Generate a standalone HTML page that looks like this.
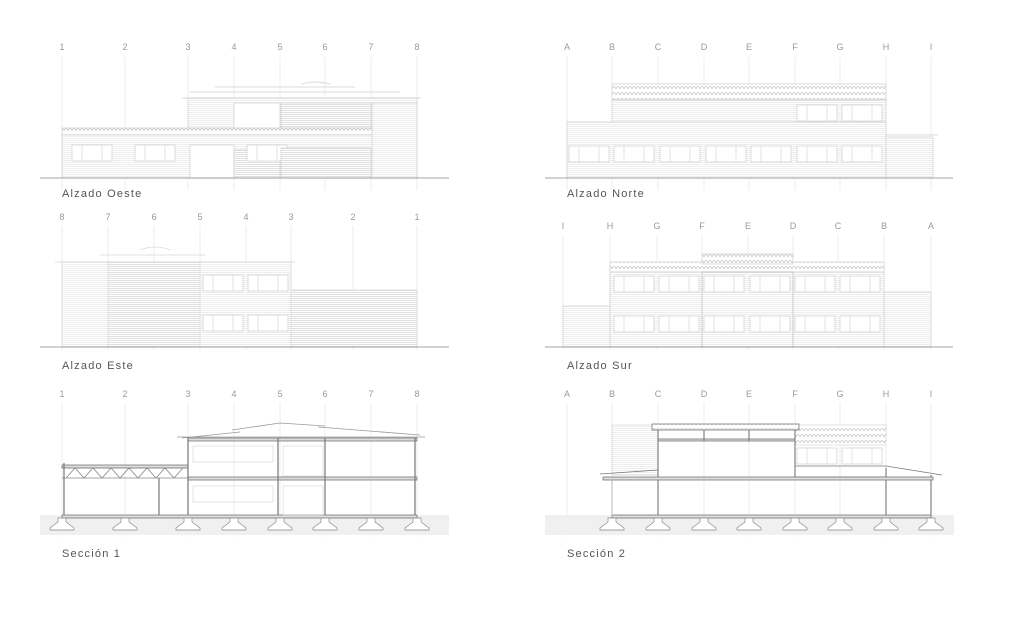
<!DOCTYPE html>
<html><head><meta charset="utf-8"><style>
html,body{margin:0;padding:0;background:#fff;}
svg{display:block}
text{font-family:"Liberation Sans",sans-serif;}
.g{font-size:9px;fill:#999;text-anchor:middle}
.t{font-size:11px;fill:#555;letter-spacing:1.2px}
</style></head><body>
<svg width="1017" height="624" viewBox="0 0 1017 624" xmlns="http://www.w3.org/2000/svg">
<defs>
<pattern id="hs" width="4" height="2" patternUnits="userSpaceOnUse"><rect width="4" height="2" fill="#fff"/><line x1="0" y1="0.5" x2="4" y2="0.5" stroke="#e2e2e2" stroke-width="0.6"/></pattern>
<pattern id="hd" width="4" height="2" patternUnits="userSpaceOnUse"><rect width="4" height="2" fill="#fff"/><line x1="0" y1="0.5" x2="4" y2="0.5" stroke="#d2d2d2" stroke-width="0.7"/></pattern>
<pattern id="rf" width="4" height="6" patternUnits="userSpaceOnUse"><rect width="4" height="6" fill="#fff"/><path d="M0 5 Q2 0 4 5" fill="none" stroke="#c4c4c4" stroke-width="0.7"/></pattern>
<pattern id="gr" width="4" height="2" patternUnits="userSpaceOnUse"><rect width="4" height="2" fill="#f7f7f7"/><line x1="0" y1="1" x2="4" y2="1" stroke="#e2e2e2" stroke-width="0.6"/></pattern>
<g id="win"><rect width="40" height="16" fill="#fff" stroke="#d0d0d0" stroke-width="0.7"/><line x1="10" y1="0" x2="10" y2="16" stroke="#d0d0d0" stroke-width="0.6"/><line x1="30" y1="0" x2="30" y2="16" stroke="#d0d0d0" stroke-width="0.6"/></g>
<g id="ft"><path d="M-12 10 L-4 4 L-4 0 L4 0 L4 4 L12 10 L12 12 L-12 12 Z" fill="#fff" stroke="#888" stroke-width="0.7"/></g>
</defs>

<g stroke="#e6e6e6" stroke-width="0.7">
<path d="M62 57V190M125 57V190M188 57V190M234 57V190M280 57V190M325 57V190M371 57V190M417 57V190"/>
<path d="M567 57V190M612 57V190M658 57V190M704 57V190M749 57V190M795 57V190M840 57V190M886 57V190M931 57V190"/>
<path d="M62 226V350M108 226V350M154 226V350M200 226V350M246 226V350M291 226V350M353 226V350M417 226V350"/>
<path d="M563 235V350M610 235V350M657 235V350M702 235V350M748 235V350M793 235V350M838 235V350M884 235V350M931 235V350"/>
<path d="M62 403V537M125 403V537M188 403V537M234 403V537M280 403V537M325 403V537M371 403V537M417 403V537"/>
<path d="M567 403V537M612 403V537M658 403V537M704 403V537M749 403V537M795 403V537M840 403V537M886 403V537M931 403V537"/>
</g>

<g class="g">
<text x="62" y="50">1</text><text x="125" y="50">2</text><text x="188" y="50">3</text><text x="234" y="50">4</text><text x="280" y="50">5</text><text x="325" y="50">6</text><text x="371" y="50">7</text><text x="417" y="50">8</text>
<text x="567" y="50">A</text><text x="612" y="50">B</text><text x="658" y="50">C</text><text x="704" y="50">D</text><text x="749" y="50">E</text><text x="795" y="50">F</text><text x="840" y="50">G</text><text x="886" y="50">H</text><text x="931" y="50">I</text>
<text x="62" y="220">8</text><text x="108" y="220">7</text><text x="154" y="220">6</text><text x="200" y="220">5</text><text x="246" y="220">4</text><text x="291" y="220">3</text><text x="353" y="220">2</text><text x="417" y="220">1</text>
<text x="563" y="229">I</text><text x="610" y="229">H</text><text x="657" y="229">G</text><text x="702" y="229">F</text><text x="748" y="229">E</text><text x="793" y="229">D</text><text x="838" y="229">C</text><text x="884" y="229">B</text><text x="931" y="229">A</text>
<text x="62" y="397">1</text><text x="125" y="397">2</text><text x="188" y="397">3</text><text x="234" y="397">4</text><text x="280" y="397">5</text><text x="325" y="397">6</text><text x="371" y="397">7</text><text x="417" y="397">8</text>
<text x="567" y="397">A</text><text x="612" y="397">B</text><text x="658" y="397">C</text><text x="704" y="397">D</text><text x="749" y="397">E</text><text x="795" y="397">F</text><text x="840" y="397">G</text><text x="886" y="397">H</text><text x="931" y="397">I</text>
</g>
<text class="t" x="62" y="197">Alzado Oeste</text>
<text class="t" x="567" y="197">Alzado Norte</text>
<text class="t" x="62" y="369">Alzado Este</text>
<text class="t" x="567" y="369">Alzado Sur</text>
<text class="t" x="62" y="557">Sección 1</text>
<text class="t" x="567" y="557">Sección 2</text>

<!-- Alzado Oeste -->
<g stroke="#d0d0d0" stroke-width="0.7">
<rect x="188" y="98" width="229" height="30" fill="url(#hs)"/>
<rect x="281" y="103" width="90" height="25" fill="url(#hd)"/>
<rect x="234" y="103" width="46" height="25" fill="#fff"/>
<path d="M182 98H421M190 92H400M215 87H355M302 84Q315 80 330 84" fill="none"/>
<rect x="62" y="128" width="310" height="7" fill="url(#rf)"/>
<rect x="62" y="135" width="355" height="43" fill="url(#hs)"/>
<use href="#win" x="72" y="145"/><use href="#win" x="135" y="145"/>
<rect x="190" y="145" width="44" height="33" fill="#fff"/>
<rect x="234" y="150" width="46" height="28" fill="url(#hd)"/>
<use href="#win" x="247" y="145"/>
<rect x="281" y="148" width="90" height="30" fill="url(#hd)"/>
<rect x="372" y="103" width="45" height="75" fill="url(#hs)"/>
</g>
<line x1="40" y1="178" x2="449" y2="178" stroke="#888" stroke-width="0.8"/>

<!-- Alzado Norte -->
<g stroke="#d0d0d0" stroke-width="0.7">
<rect x="612" y="84" width="274" height="16" fill="url(#rf)"/>
<rect x="612" y="100" width="274" height="22" fill="url(#hs)"/>
<use href="#win" x="797" y="105"/><use href="#win" x="842" y="105"/>
<rect x="567" y="122" width="319" height="56" fill="url(#hs)"/>
<use href="#win" x="569" y="146"/><use href="#win" x="614" y="146"/><use href="#win" x="660" y="146"/><use href="#win" x="706" y="146"/><use href="#win" x="751" y="146"/><use href="#win" x="797" y="146"/><use href="#win" x="842" y="146"/>
<rect x="886" y="137" width="47" height="41" fill="url(#hs)"/>
<path d="M886 135H938"/>
</g>
<line x1="545" y1="178" x2="953" y2="178" stroke="#888" stroke-width="0.8"/>

<!-- Alzado Este -->
<g stroke="#d8d8d8" stroke-width="0.7">
<path d="M55 262H295M100 255H205M140 250Q155 244 170 250" fill="none"/>
<rect x="62" y="262" width="229" height="85" fill="url(#hs)"/>
<rect x="108" y="262" width="92" height="85" fill="url(#hd)"/>
<use href="#win" x="203" y="275"/><use href="#win" x="248" y="275"/>
<use href="#win" x="203" y="315"/><use href="#win" x="248" y="315"/>
<rect x="291" y="290" width="126" height="57" fill="url(#hd)"/>
</g>
<line x1="40" y1="347" x2="449" y2="347" stroke="#888" stroke-width="0.8"/>

<!-- Alzado Sur -->
<g stroke="#d0d0d0" stroke-width="0.7">
<rect x="610" y="262" width="274" height="10" fill="url(#rf)"/>
<rect x="702" y="254" width="91" height="10" fill="url(#rf)"/>
<rect x="610" y="272" width="274" height="75" fill="url(#hs)"/>
<use href="#win" x="614" y="276"/><use href="#win" x="659" y="276"/><use href="#win" x="704" y="276"/><use href="#win" x="750" y="276"/><use href="#win" x="795" y="276"/><use href="#win" x="840" y="276"/>
<use href="#win" x="614" y="316"/><use href="#win" x="659" y="316"/><use href="#win" x="704" y="316"/><use href="#win" x="750" y="316"/><use href="#win" x="795" y="316"/><use href="#win" x="840" y="316"/>
<rect x="702" y="272" width="91" height="75" fill="none" stroke="#b8b8b8"/>
<rect x="884" y="292" width="47" height="55" fill="url(#hs)"/>
<rect x="563" y="306" width="47" height="41" fill="url(#hs)"/>
</g>
<line x1="545" y1="347" x2="953" y2="347" stroke="#888" stroke-width="0.8"/>

<!-- Sección 1 -->
<rect x="40" y="515" width="409" height="20" fill="url(#gr)"/>
<g stroke="#777" stroke-width="0.8" fill="none">
<path d="M182 438L240 432M232 430L280 423L325 426M318 427L420 435M177 437H425" stroke="#999"/>
<rect x="188" y="438" width="229" height="3" fill="#ddd"/>
<rect x="188" y="477" width="229" height="3" fill="#ddd"/>
<rect x="62" y="465" width="126" height="3" fill="#ddd"/>
<path d="M62 468H188M62 478H188M66 478L75 468L84 478L93 468L102 478L111 468L120 478L129 468L138 478L147 468L156 478L165 468L174 478L183 468" stroke="#888"/>
<path d="M64 463V517M159 478V517M188 438V517M278 438V517M325 438V517M415 438V517" stroke-width="1.2"/>
<rect x="62" y="515" width="355" height="3" fill="#ddd"/>
</g>
<g stroke="#d4d4d4" stroke-width="0.6" fill="none">
<rect x="193" y="446" width="80" height="16"/><rect x="193" y="486" width="80" height="16"/>
<rect x="283" y="446" width="40" height="30"/><rect x="283" y="486" width="40" height="29"/>
</g>
<use href="#ft" x="62" y="518"/><use href="#ft" x="125" y="518"/><use href="#ft" x="188" y="518"/><use href="#ft" x="234" y="518"/><use href="#ft" x="280" y="518"/><use href="#ft" x="325" y="518"/><use href="#ft" x="371" y="518"/><use href="#ft" x="417" y="518"/>

<!-- Sección 2 -->
<rect x="545" y="515" width="409" height="20" fill="url(#gr)"/>
<g stroke="#d0d0d0" stroke-width="0.6">
<rect x="612" y="425" width="46" height="50" fill="url(#hs)"/>
<rect x="795" y="425" width="91" height="20" fill="url(#rf)"/>
<use href="#win" x="797" y="448"/><use href="#win" x="842" y="448"/>
</g>
<g stroke="#777" stroke-width="0.8" fill="none">
<rect x="652" y="424" width="147" height="6" fill="url(#rf)"/>
<rect x="658" y="439" width="137" height="2" fill="#ddd"/>
<path d="M658 430V517M704 430V441M749 430V441M795 430V477M886 468V517M931 475V517" stroke-width="1.1"/>
<path d="M600 474L658 470M795 466H886L942 475M795 477H886"/>
<rect x="603" y="477" width="330" height="3" fill="#ddd"/>
<rect x="612" y="515" width="319" height="3" fill="#ddd"/>
<path d="M612 480V517" stroke="#aaa"/>
</g>
<use href="#ft" x="612" y="518"/><use href="#ft" x="658" y="518"/><use href="#ft" x="704" y="518"/><use href="#ft" x="749" y="518"/><use href="#ft" x="795" y="518"/><use href="#ft" x="840" y="518"/><use href="#ft" x="886" y="518"/><use href="#ft" x="931" y="518"/>
</svg>
</body></html>
